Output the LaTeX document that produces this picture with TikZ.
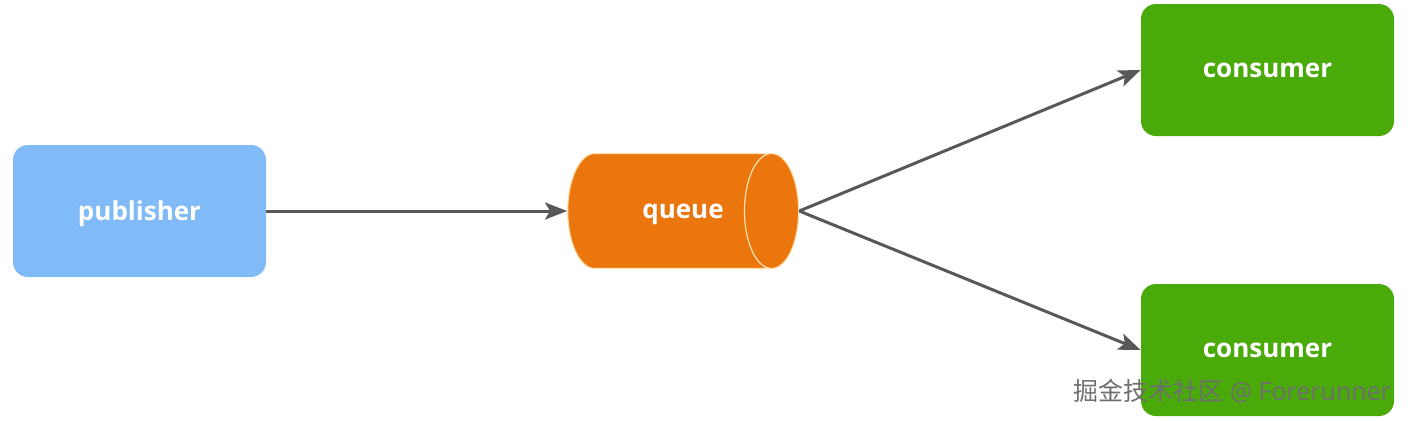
\documentclass[tikz,border=0pt]{standalone}
\usepackage{fontspec}
\setmainfont{Open Sans}
\newfontfamily\cjkfont{Noto Sans CJK SC}
\definecolor{pubblue}{RGB}{128, 187, 248}
\definecolor{queueorange}{RGB}{236, 118, 14}
\definecolor{queueedge}{RGB}{255, 226, 176}
\definecolor{consgreen}{RGB}{74, 170, 10}
\definecolor{arrowgray}{RGB}{88, 88, 88}
\definecolor{markgray}{RGB}{110, 110, 110}
\usepackage{tikz}
\usetikzlibrary{positioning, shapes.geometric, arrows.meta}

\begin{document}
\begin{tikzpicture}[x=0.5pt, y=-0.5pt,
    box/.style={rectangle, rounded corners=7.5pt, minimum width=126.5pt, minimum height=66pt,
        text depth=0pt, text=white, font=\bfseries\fontsize{13}{15}\selectfont},
    flow/.style={-{Stealth[length=11pt, width=8.5pt, inset=2.5pt]}, color=arrowgray, line width=1.5pt}]
    \useasboundingbox (0,0) rectangle (1410,420);

    % Publisher and queue
    \node[box, fill=pubblue] (pub) at (139.5,211) {publisher};
    \node[cylinder, shape aspect=1.95, draw=queueedge, line width=0.6pt, fill=queueorange,
        minimum height=115.5pt, minimum width=57.5pt, text depth=0pt, text=white,
        font=\bfseries\fontsize{13}{15}\selectfont] (queue) at (663,211) {\hspace*{20pt}queue};

    % Consumers
    \node[box, fill=consgreen] (cons1) at (1267.5,70) {consumer};
    \node[box, fill=consgreen] (cons2) at (1267.5,350) {consumer};

    % Message flow
    \draw[flow] (pub.east) -- (queue.west);
    \draw[flow] (queue.east) -- (cons1.west);
    \draw[flow] (queue.east) -- (cons2.west);

    % Watermark
    \node[text=markgray, anchor=east, font=\fontsize{12.5}{14}\selectfont] (mark) at (1398,391)
        {{\cjkfont 掘金技术社区} @ Forerunner};
\end{tikzpicture}
\end{document}
